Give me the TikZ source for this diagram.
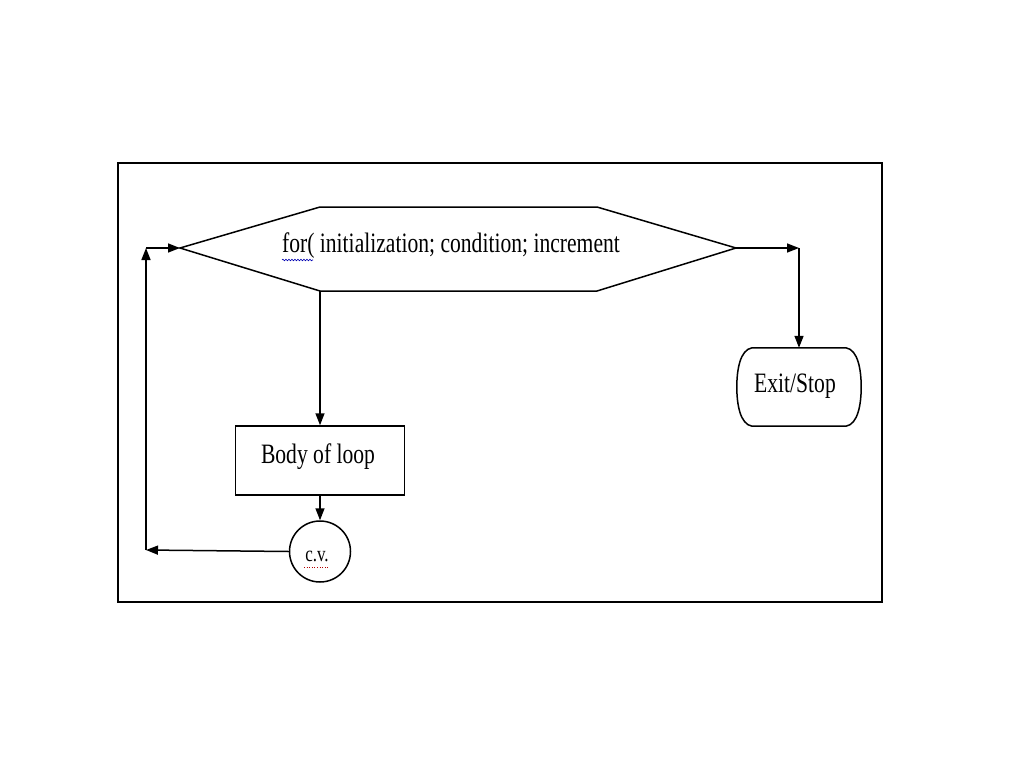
\documentclass[tikz,border=0pt]{standalone}
\usepackage{fontspec}
\setmainfont{Liberation Serif}
\usetikzlibrary{arrows.meta,decorations.pathmorphing}
\newcommand\stretchtxt[1]{\scalebox{1}[1.3]{#1}}
\begin{document}
\begin{tikzpicture}[x=1pt,y=-1pt,
  ln/.style={line width=1.5pt, draw=black},
  arr/.style={ln, -{Triangle[length=12pt,width=9pt]}},
  lbl/.style={font=\fontsize{21.6}{24}\selectfont, inner sep=0pt},
  bodybox/.style={ln, rectangle, minimum width=169pt, minimum height=69pt, inner sep=0pt},
  cvcircle/.style={ln, circle, minimum size=61pt, inner sep=0pt},
  exitbox/.style={rectangle, minimum width=124pt, minimum height=78pt, inner sep=0pt}
]
\useasboundingbox (0,0) rectangle (1024,768);
\fill[white] (0,0) rectangle (1024,768);
% outer frame
\draw[line width=1.3pt] (118,163) rectangle (882,602);
% hexagon
\coordinate (hl) at (180,248);
\coordinate (htl) at (320,207);
\coordinate (htr) at (597,207);
\coordinate (hr) at (736,248);
\coordinate (hbr) at (597,291);
\coordinate (hbl) at (320,291);
\draw[ln] (hl) -- (htl) -- (htr) -- (hr) -- (hbr) -- (hbl) -- cycle;
\node[lbl] (fortext) at (451,246) {\stretchtxt{for( initialization; condition; increment}};
% nodes
\node[bodybox] (body) at (320,460.5) {};
\node[lbl] (bodytext) at (318,457) {\stretchtxt{Body of loop}};
\node[cvcircle] (cv) at (320,551.5) {};
\node[lbl, font=\fontsize{17}{20}\selectfont] (cvtext) at (317,556) {\stretchtxt{c.v.}};
\node[exitbox] (exit) at (799,387) {};
\draw[ln] ([xshift=-47pt]exit.north) -- ([xshift=47pt]exit.north)
  .. controls +(12,2) and +(0,-17) .. (exit.east)
  .. controls +(0,17) and +(12,-2) .. ([xshift=47pt]exit.south)
  -- ([xshift=-47pt]exit.south)
  .. controls +(-12,-2) and +(0,17) .. (exit.west)
  .. controls +(0,-17) and +(-12,2) .. ([xshift=-47pt]exit.north) -- cycle;
\node[lbl] (exittext) at (795,386) {\stretchtxt{Exit/Stop}};
% helper coordinates
\coordinate (lb) at (146,550);
\coordinate (lt) at (146,248);
\coordinate (rt) at (799,248);
% connectors
\draw[arr] (hbl) -- (body.north);
\draw[arr] (body.south) -- (cv.north);
\draw[arr] (cv.west) -- (lb);
\draw[arr] (lb) -- (lt);
\draw[arr] (lt) -- (hl);
\draw[arr] (hr) -- (rt);
\draw[arr] (rt) -- (exit.north);
% spell-check underlines
\draw[blue!70!black, line width=0.6pt, decorate, decoration={snake, amplitude=0.8pt, segment length=3pt}] (282,260) -- (313,260);
\draw[red!70!black, line width=0.6pt, dotted] (304,567) -- (329,567);
\end{tikzpicture}
\end{document}
